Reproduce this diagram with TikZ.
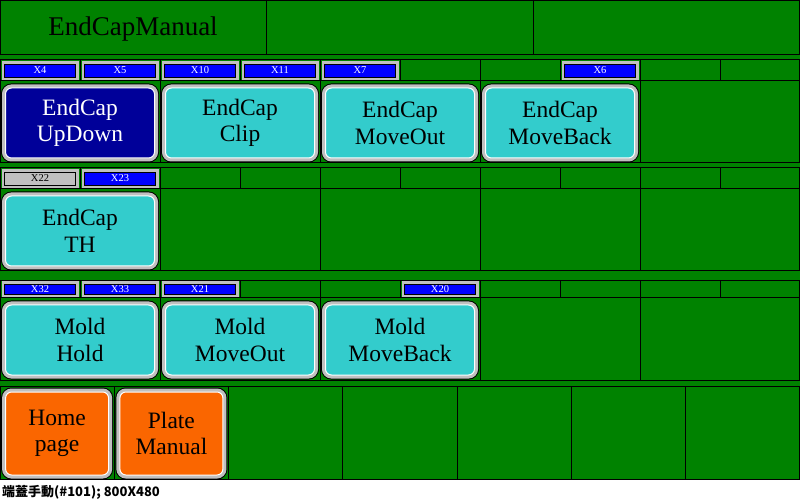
\documentclass[tikz,border=0pt]{standalone}
\usepackage{fontspec}
\setmainfont{Liberation Serif}
\newfontfamily\cjk{Noto Sans CJK TC}

\definecolor{panelgreen}{RGB}{0,130,0}
\definecolor{tagblue}{RGB}{0,0,255}
\definecolor{keycyan}{RGB}{51,204,204}
\definecolor{keynavy}{RGB}{0,0,153}
\definecolor{keyorange}{RGB}{250,102,0}
\definecolor{silver}{RGB}{192,192,192}

\tikzset{
	cell/.style = {draw = black, line width = 1pt},
	tagbox/.style = {fill = tagblue, draw = black, line width = 0.6pt, text = white,
		font = \fontsize{10.5}{11}\selectfont, minimum width = 71pt, minimum height = 13pt,
		inner sep = 0pt, preaction = {draw = silver, line width = 6pt}},
	tagoff/.style = {tagbox, fill = silver, text = black},
	pushbtn/.style = {rounded corners = 6pt, draw = white, line width = 1pt, fill = keycyan,
		minimum width = 149pt, minimum height = 70pt, inner sep = 0pt, align = center,
		font = \fontsize{23.5}{26.5}\selectfont,
		preaction = {draw = black, line width = 9pt},
		preaction = {draw = silver, line width = 7pt}}
}

\begin{document}
\begin{tikzpicture}[x = 1pt, y = -1pt]
\useasboundingbox (0, 0) rectangle (800, 502);

	% Screen

	\fill [panelgreen] (0, 0) rectangle (800, 480);
	\fill [white] (0, 480) rectangle (800, 502);

	% Title bar

	\draw [cell] (0.5, 0.5) rectangle (799.5, 55);
	\draw [cell] (266.7, 0.5) -- (266.7, 55);
	\draw [cell] (533.3, 0.5) -- (533.3, 55);
	\node [font = \fontsize{27}{30}\selectfont] (title) at (133, 29.5) {EndCapManual};

	% Input bands

	\foreach \top/\mid/\bot in {60/81/163, 168/189/271, 281/298/380} {
		\draw [cell] (0.5, \top) rectangle (799.5, \bot);
		\draw [cell] (0.5, \mid) -- (799.5, \mid);
		\foreach \x in {80, 160, ..., 720}
			\draw [cell] (\x, \top) -- (\x, \mid);
		\foreach \x in {160, 320, ..., 640}
			\draw [cell] (\x, \mid) -- (\x, \bot);
	}

	% Key band

	\draw [cell] (0.5, 386) rectangle (799.5, 479.5);
	\foreach \k in {1, ..., 6}
		\draw [cell] (800*\k/7, 386) -- (800*\k/7, 479.5);

	% Input tags

	\foreach \col/\lbl in {0/X4, 1/X5, 2/X10, 3/X11, 4/X7, 7/X6}
		\node [tagbox] (tag\lbl) at (80*\col + 40, 70.5) {\lbl};
	\node [tagoff] (tagX22) at (40, 178.5) {X22};
	\node [tagbox] (tagX23) at (120, 178.5) {X23};
	\foreach \col/\lbl in {0/X32, 1/X33, 2/X21, 5/X20}
		\node [tagbox, minimum height = 10pt] (tag\lbl) at (80*\col + 40, 289.5) {\lbl};

	% EndCap keys

	\node [pushbtn, fill = keynavy, text = white] (updown) at (80, 123) {EndCap\\UpDown};
	\node [pushbtn] (clip) at (240, 123) {EndCap\\Clip};
	\node [pushbtn] (moveout) at (400, 123) {EndCap\\MoveOut};
	\node [pushbtn] (moveback) at (560, 123) {EndCap\\MoveBack};
	\node [pushbtn] (th) at (80, 231) {EndCap\\TH};

	% Mold keys

	\node [pushbtn] (hold) at (80, 340) {Mold\\Hold};
	\node [pushbtn] (moldout) at (240, 340) {Mold\\MoveOut};
	\node [pushbtn] (moldback) at (400, 340) {Mold\\MoveBack};

	% Page keys

	\node [pushbtn, fill = keyorange, minimum width = 103pt, minimum height = 83pt] (home) at (57.1, 433.5) {Home\\page};
	\node [pushbtn, fill = keyorange, minimum width = 103pt, minimum height = 83pt] (plate) at (171.4, 433.5) {Plate\\Manual};

	% Screen name

	\node [anchor = base west, inner sep = 0pt, font = \cjk\bfseries\fontsize{13}{14}\selectfont] (screen) at (2, 496) {端蓋手動(\#101); 800X480};

\end{tikzpicture}
\end{document}
